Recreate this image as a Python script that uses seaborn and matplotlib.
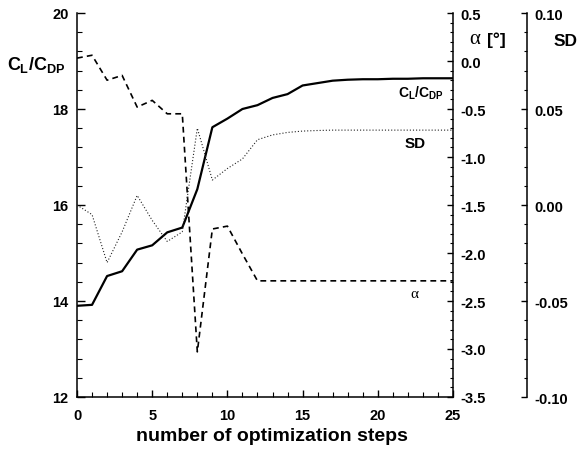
import matplotlib
matplotlib.use("Agg")
import matplotlib.pyplot as plt
from matplotlib.ticker import MultipleLocator, FormatStrFormatter
import seaborn as sns
import pandas as pd

# optimization history
steps = list(range(26))
cl_cdp = [13.90, 13.92, 14.52, 14.62, 15.07, 15.16, 15.43, 15.53, 16.33, 17.62,
          17.80, 18.00, 18.08, 18.23, 18.31, 18.49, 18.54, 18.59, 18.61, 18.62,
          18.62, 18.63, 18.63, 18.64, 18.64, 18.64]
alpha = [0.03, 0.06, -0.20, -0.15, -0.48, -0.41, -0.55, -0.55, -3.03, -1.75,
         -1.72, -2.01, -2.29, -2.29, -2.29, -2.29, -2.29, -2.29, -2.29, -2.29,
         -2.29, -2.29, -2.29, -2.29, -2.29, -2.29]
sd = [0.000, -0.005, -0.030, -0.014, 0.005, -0.008, -0.019, -0.014, 0.040, 0.013,
      0.019, 0.024, 0.034, 0.0365, 0.0378, 0.0385, 0.0388, 0.0390, 0.0390, 0.0390,
      0.0390, 0.0390, 0.0390, 0.0390, 0.0390, 0.0390]

df = pd.DataFrame({"step": steps, "cl_cdp": cl_cdp, "alpha": alpha, "sd": sd})

sns.set_style("ticks")
plt.rcParams.update({
    "font.family": ["Liberation Sans", "DejaVu Sans"],
    "font.weight": "bold",
    "text.color": "black",
    "axes.edgecolor": "black",
    "axes.labelcolor": "black",
    "xtick.color": "black",
    "ytick.color": "black",
    "mathtext.fontset": "custom",
    "mathtext.rm": "Liberation Sans:bold",
    "mathtext.it": "Liberation Sans:bold",
    "mathtext.bf": "Liberation Sans:bold",
})

fig = plt.figure(figsize=(5.84, 4.56), dpi=100)
ax = fig.add_axes([77 / 584, 1 - 398 / 456, (453 - 77) / 584, (398 - 14) / 456])
ax2 = ax.twinx()
ax3 = ax.twinx()
ax3.spines["right"].set_position(("axes", (527 - 77) / (453 - 77)))

sns.lineplot(data=df, x="step", y="cl_cdp", ax=ax, color="black", lw=1.6)
sns.lineplot(data=df, x="step", y="alpha", ax=ax2, color="black", lw=1.2,
             linestyle=(0, (3.5, 2.5)))
sns.lineplot(data=df, x="step", y="sd", ax=ax3, color="#222222", lw=0.8,
             linestyle=(0, (1, 1.8)))

ax.set_xlim(0, 25)
ax.set_ylim(12, 20)
ax2.set_ylim(-3.5, 0.5)
ax3.set_ylim(-0.10, 0.10)

for a in (ax, ax2, ax3):
    a.set_xlabel("")
    a.set_ylabel("")
    a.spines["top"].set_visible(False)
    for s in a.spines.values():
        s.set_linewidth(1.1)
        s.set_color("black")

ax.spines["right"].set_visible(False)
ax2.spines["left"].set_visible(False)
ax2.spines["bottom"].set_visible(False)
ax3.spines["left"].set_visible(False)
ax3.spines["bottom"].set_visible(False)

ax.xaxis.set_major_locator(MultipleLocator(5))
ax.xaxis.set_minor_locator(MultipleLocator(1))
ax.yaxis.set_major_locator(MultipleLocator(2))
ax.yaxis.set_minor_locator(MultipleLocator(0.4))
ax2.yaxis.set_major_locator(MultipleLocator(0.5))
ax2.yaxis.set_minor_locator(MultipleLocator(0.1))
ax2.yaxis.set_major_formatter(FormatStrFormatter("%.1f"))
ax3.yaxis.set_major_locator(MultipleLocator(0.05))
ax3.yaxis.set_minor_locator(MultipleLocator(0.01))
ax3.yaxis.set_major_formatter(FormatStrFormatter("%.2f"))

ax.tick_params(axis="both", which="major", direction="in", length=6, width=1,
               labelsize=10.5, pad=6, colors="black")
ax.tick_params(axis="both", which="minor", direction="in", length=3.5, width=0.8,
               colors="black")
ax.tick_params(axis="x", which="major", length=5, pad=8)
ax.tick_params(axis="x", which="minor", length=3.5)
for a in (ax2, ax3):
    a.tick_params(axis="y", which="major", direction="in", length=4, width=1,
                  labelsize=10.5, pad=5, colors="black")
    a.tick_params(axis="y", which="minor", direction="in", length=2.5, width=0.8,
                  colors="black")

for a in (ax, ax2, ax3):
    for lab in a.get_xticklabels() + a.get_yticklabels():
        lab.set_fontweight("bold")

# curve labels
ax.text(22.87, 18.35, r"$C_L/C_{DP}$", ha="center", va="center", fontsize=10)
ax.text(22.47, 17.30, "SD", ha="center", va="center", fontsize=11,
        fontweight="bold")
ax.text(22.4, 14.16, "α", ha="center", va="center", fontsize=11,
        family=["Liberation Serif", "DejaVu Serif"], fontweight="normal")

# axis titles
fig.text(36 / 584, 1 - 65 / 456, r"$C_L/C_{DP}$", ha="center", va="center",
         fontsize=13)
fig.text(475 / 584, 1 - 40 / 456, "α", ha="center", va="center", fontsize=15,
         family=["Liberation Serif", "DejaVu Serif"], fontweight="normal")
fig.text(496 / 584, 1 - 40 / 456, "[°]", ha="center", va="center", fontsize=12.5,
         fontweight="bold")
fig.text(566 / 584, 1 - 41 / 456, "SD", ha="center", va="center", fontsize=12.5,
         fontweight="bold")
fig.text(271.5 / 584, 1 - 437 / 456, "number of optimization steps",
         ha="center", va="center", fontsize=14, fontweight="bold")

fig.savefig("out.png", dpi=100)
